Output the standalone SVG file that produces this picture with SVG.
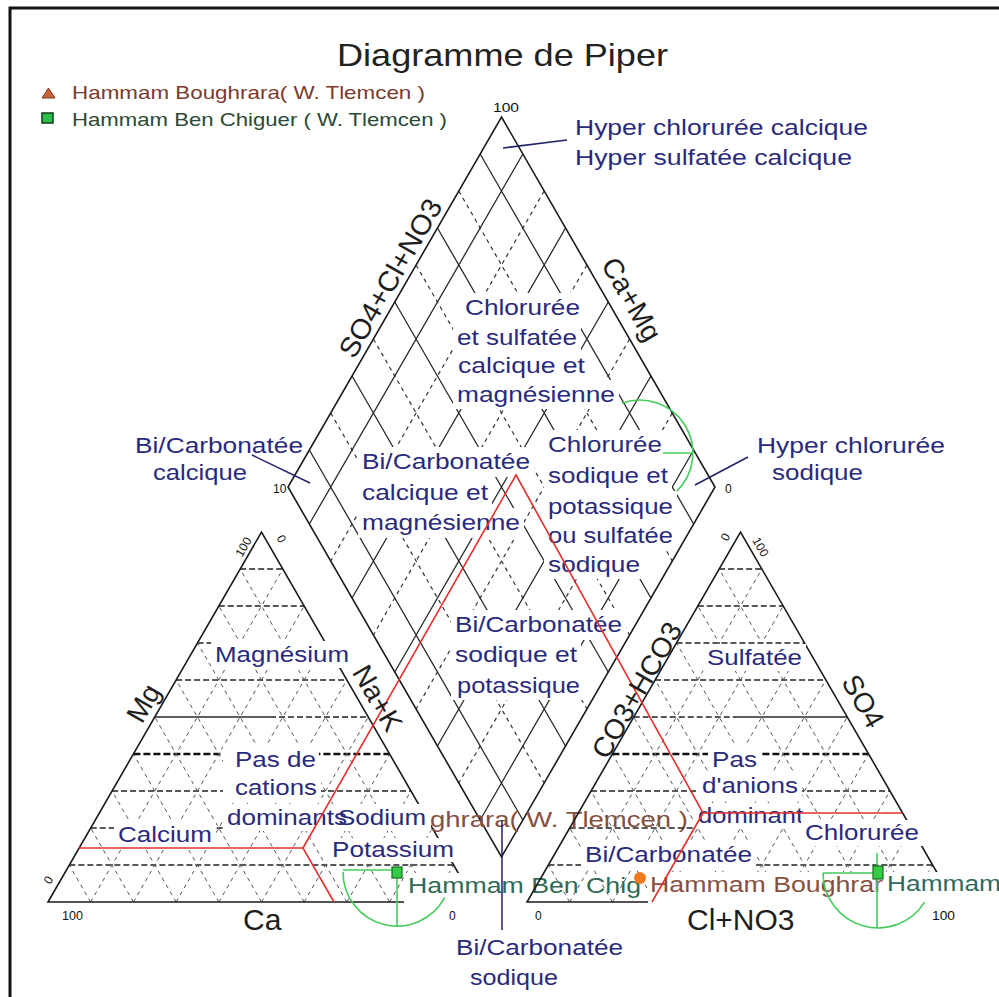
<svg xmlns="http://www.w3.org/2000/svg" width="999" height="997" viewBox="0 0 999 997">
<defs>
<style>
text{font-family:"Liberation Sans",Arial,sans-serif}
.lbl{font-size:22px;fill:#2a2a7c}
.ax{font-size:28px;fill:#1e1e1e}
.num{font-size:12px;fill:#111}
.edge{fill:none;stroke:#1a1a1a;stroke-width:1.6}
.sol{fill:none;stroke:#2a2a2a;stroke-width:1.3}
.dsh{fill:none;stroke:#333;stroke-width:1.2;stroke-dasharray:4 4}
.th{fill:none;stroke:#222;stroke-width:1.3;stroke-dasharray:6 3}
.thk{fill:none;stroke:#111;stroke-width:2.6;stroke-dasharray:7 3}
.td{fill:none;stroke:#555;stroke-width:1;stroke-dasharray:4 4}
.box{fill:#fff}
.red{fill:none;stroke:#e2312b;stroke-width:1.6}
.grn{fill:none;stroke:#45cc5c;stroke-width:1.6}
.lead{stroke:#22226a;stroke-width:1.5;fill:none}
</style>
<g id="triGrid">
<path class="th" d="M69.35,865H453.65M90.7,828H432.3M112.05,791H410.95M176.1,680H346.9M197.45,643H325.55M218.8,606H304.2M240.15,569H282.85"/>
<path class="thk" d="M133.4,754H389.6"/>
<path class="td" d="M90.7,902L282.85,569M133.4,902L304.2,606M176.1,902L325.55,643M218.8,902L346.9,680M261.5,902L368.25,717M304.2,902L389.6,754M346.9,902L410.95,791M389.6,902L432.3,828M432.3,902L453.65,865M90.7,902L69.35,865M133.4,902L90.7,828M176.1,902L112.05,791M218.8,902L133.4,754M261.5,902L154.75,717M304.2,902L176.1,680M346.9,902L197.45,643M389.6,902L218.8,606M432.3,902L240.15,569"/>
</g>
</defs>
<rect width="999" height="997" fill="#fff"/>
<path d="M10,997V8H999" fill="none" stroke="#111" stroke-width="3"/>

<g id="diamond">
<path class="dsh" d="M458.8,191L672.3,561M416.1,265L629.6,635M373.4,339L586.9,709M330.7,413L544.2,783M544.2,191L330.7,561M586.9,265L373.4,635M629.6,339L416.1,709M672.3,413L458.8,783"/>
<path class="sol" d="M480.15,154L693.65,524M437.45,228L650.95,598M394.75,302L608.25,672M352.05,376L565.55,746M309.35,450L522.85,820M522.85,154L309.35,524M565.55,228L352.05,598M608.25,302L394.75,672M650.95,376L437.45,746M693.65,450L480.15,820"/>
<polygon class="edge" points="501.5,117 715,487 501.5,857 288,487"/>
</g>

<g id="diamond-labels">
<rect class="box" x="461" y="293" width="123" height="30"/>
<rect class="box" x="453" y="323" width="128" height="29"/>
<rect class="box" x="454" y="351" width="135" height="29"/>
<rect class="box" x="453" y="380" width="166" height="29"/>
<text class="lbl" x="465" y="315" textLength="115" lengthAdjust="spacingAndGlyphs">Chlorurée</text>
<text class="lbl" x="457" y="345" textLength="120" lengthAdjust="spacingAndGlyphs">et sulfatée</text>
<text class="lbl" x="458" y="373" textLength="127" lengthAdjust="spacingAndGlyphs">calcique et</text>
<text class="lbl" x="457" y="402" textLength="158" lengthAdjust="spacingAndGlyphs">magnésienne</text>

<rect class="box" x="358" y="447" width="176" height="30"/>
<rect class="box" x="358" y="477" width="134" height="31"/>
<rect class="box" x="358" y="508" width="166" height="30"/>
<text class="lbl" x="362" y="469" textLength="168" lengthAdjust="spacingAndGlyphs">Bi/Carbonatée</text>
<text class="lbl" x="362" y="500" textLength="126" lengthAdjust="spacingAndGlyphs">calcique et</text>
<text class="lbl" x="362" y="530" textLength="158" lengthAdjust="spacingAndGlyphs">magnésienne</text>

<rect class="box" x="544" y="430" width="122" height="30"/>
<rect class="box" x="544" y="460" width="128" height="31"/>
<rect class="box" x="544" y="491" width="133" height="30"/>
<rect class="box" x="544" y="521" width="133" height="29"/>
<rect class="box" x="544" y="550" width="98" height="29"/>
<text class="lbl" x="548" y="452" textLength="114" lengthAdjust="spacingAndGlyphs">Chlorurée</text>
<text class="lbl" x="548" y="483" textLength="120" lengthAdjust="spacingAndGlyphs">sodique et</text>
<text class="lbl" x="548" y="514" textLength="125" lengthAdjust="spacingAndGlyphs">potassique</text>
<text class="lbl" x="548" y="543" textLength="125" lengthAdjust="spacingAndGlyphs">ou sulfatée</text>
<text class="lbl" x="548" y="572" textLength="92" lengthAdjust="spacingAndGlyphs">sodique</text>

<rect class="box" x="451" y="610" width="175" height="30"/>
<rect class="box" x="451" y="640" width="130" height="30"/>
<rect class="box" x="451" y="670" width="133" height="30"/>
<text class="lbl" x="455" y="632" textLength="167" lengthAdjust="spacingAndGlyphs">Bi/Carbonatée</text>
<text class="lbl" x="455" y="662" textLength="122" lengthAdjust="spacingAndGlyphs">sodique et</text>
<text class="lbl" x="457" y="693" textLength="123" lengthAdjust="spacingAndGlyphs">potassique</text>
</g>

<g id="cation-triangle">
<use href="#triGrid"/>
<path class="sol" d="M154.75,717H270"/>
<path class="th" d="M270,717H368.25"/>
<polygon class="edge" points="48,902 475,902 261.5,532"/>
<rect class="box" x="211" y="641" width="145" height="27"/>
<text class="lbl" x="215" y="662" textLength="134" lengthAdjust="spacingAndGlyphs">Magnésium</text>
<rect class="box" x="223" y="746" width="96" height="28"/>
<text class="lbl" x="235" y="767" textLength="81" lengthAdjust="spacingAndGlyphs">Pas de</text>
<rect class="box" x="223" y="774" width="98" height="29"/>
<text class="lbl" x="235" y="795" textLength="82" lengthAdjust="spacingAndGlyphs">cations</text>
<rect class="box" x="114" y="821" width="102" height="26"/>
<text class="lbl" x="118" y="842" textLength="94" lengthAdjust="spacingAndGlyphs">Calcium</text>
<rect class="box" x="223" y="804" width="208" height="27"/>
<text class="lbl" x="227" y="825" textLength="120" lengthAdjust="spacingAndGlyphs">dominants</text>
<text class="lbl" x="338" y="825" textLength="88" lengthAdjust="spacingAndGlyphs">Sodium</text>
<text x="430" y="827" font-size="22" fill="#875040" textLength="258" lengthAdjust="spacingAndGlyphs">ghrara( W. Tlemcen )</text>
<rect class="box" x="328" y="838" width="131" height="24"/>
<text class="lbl" x="332" y="857" textLength="122" lengthAdjust="spacingAndGlyphs">Potassium</text>
<rect class="box" x="404" y="873" width="244" height="32"/>
<text x="408" y="893" font-size="22" fill="#2f6a52" textLength="233" lengthAdjust="spacingAndGlyphs">Hammam Ben Chig</text>
</g>

<g id="anion-triangle">
<use href="#triGrid" transform="translate(479,0)"/>
<path class="th" d="M633.75,717H738"/>
<path class="sol" d="M738,717H847.25"/>
<polygon class="edge" points="527,902 954,902 740.5,532"/>
<rect class="box" x="703" y="644" width="103" height="27"/>
<text class="lbl" x="707" y="665" textLength="95" lengthAdjust="spacingAndGlyphs">Sulfatée</text>
<rect class="box" x="708" y="746" width="53" height="27"/>
<text class="lbl" x="712" y="767" textLength="45" lengthAdjust="spacingAndGlyphs">Pas</text>
<rect class="box" x="698" y="773" width="104" height="27"/>
<text class="lbl" x="702" y="793" textLength="96" lengthAdjust="spacingAndGlyphs">d'anions</text>
<rect class="box" x="694" y="803" width="112" height="26"/>
<text class="lbl" x="698" y="823" textLength="105" lengthAdjust="spacingAndGlyphs">dominant</text>
<rect class="box" x="801" y="820" width="122" height="26"/>
<text class="lbl" x="805" y="840" textLength="114" lengthAdjust="spacingAndGlyphs">Chlorurée</text>
<rect class="box" x="581" y="842" width="175" height="26"/>
<text class="lbl" x="585" y="862" textLength="167" lengthAdjust="spacingAndGlyphs">Bi/Carbonatée</text>
<rect class="box" x="648" y="872" width="238" height="34"/>
<text x="650" y="892" font-size="22" fill="#875040" textLength="233" lengthAdjust="spacingAndGlyphs">Hammam Boughrar</text>
<rect class="box" x="886" y="872" width="113" height="34"/>
<text x="887" y="891" font-size="22" fill="#2f6a60" textLength="114" lengthAdjust="spacingAndGlyphs">Hammam</text>
</g>

<g id="projections">
<path class="red" d="M79,848H303L334,902M303,848L516,475L703,813H902.6M703,813L652,902"/>
<path class="grn" d="M621.9,403.2A53,53 0 0 1 676.8,491.1M663,453H693"/>
<path class="grn" d="M343,872A54,54 0 0 0 444.7,897.4M343,870H397M397,872V926"/>
<path class="grn" d="M823,873A55,55 0 0 0 924.6,902.1M823,873H878M877,853V928"/>
<rect x="392" y="867" width="10" height="11" fill="#33cc44" stroke="#1a6a22" stroke-width="1.2"/>
<rect x="873" y="866" width="10" height="13" fill="#33cc44" stroke="#1a6a22" stroke-width="1.2"/>
<circle cx="640" cy="878" r="6" fill="#f07a1e"/>
</g>

<g id="leaders">
<path class="lead" d="M503,148L567,140M252,455L310,483M748,457L695,485M502,820V930"/>
<text class="lbl" x="575" y="135" textLength="293" lengthAdjust="spacingAndGlyphs">Hyper chlorurée calcique</text>
<text class="lbl" x="575" y="165" textLength="277" lengthAdjust="spacingAndGlyphs">Hyper sulfatée calcique</text>
<text class="lbl" x="135" y="453" textLength="168" lengthAdjust="spacingAndGlyphs">Bi/Carbonatée</text>
<text class="lbl" x="153" y="480" textLength="94" lengthAdjust="spacingAndGlyphs">calcique</text>
<text class="lbl" x="757" y="453" textLength="188" lengthAdjust="spacingAndGlyphs">Hyper chlorurée</text>
<text class="lbl" x="772" y="480" textLength="91" lengthAdjust="spacingAndGlyphs">sodique</text>
<text class="lbl" x="456" y="955" textLength="167" lengthAdjust="spacingAndGlyphs">Bi/Carbonatée</text>
<text class="lbl" x="470" y="985" textLength="88" lengthAdjust="spacingAndGlyphs">sodique</text>
</g>

<g id="axes">
<text class="ax" text-anchor="middle" transform="translate(398.7,283) rotate(-60)" textLength="178" lengthAdjust="spacingAndGlyphs">SO4+Cl+NO3</text>
<text class="ax" text-anchor="middle" transform="translate(623.3,304) rotate(60)">Ca+Mg</text>
<text class="ax" text-anchor="middle" transform="translate(151.7,708) rotate(-60)">Mg</text>
<text class="ax" text-anchor="middle" transform="translate(369.3,703) rotate(60)">Na+K</text>
<text class="ax" text-anchor="middle" transform="translate(645.2,695) rotate(-60)">CO3+HCO3</text>
<text class="ax" text-anchor="middle" transform="translate(854.8,706) rotate(60)">SO4</text>
<text x="243" y="930" font-size="30" fill="#1e1e1e">Ca</text>
<text x="687" y="930" font-size="30" fill="#1e1e1e">Cl+NO3</text>
<text class="num" x="493" y="112" textLength="26" lengthAdjust="spacingAndGlyphs">100</text>
<text class="num" x="273" y="493" font-size="11">10</text>
<text class="num" x="725" y="493" font-size="11">0</text>
<text class="num" x="62" y="920" textLength="21" lengthAdjust="spacingAndGlyphs">100</text>
<text class="num" x="449" y="920">0</text>
<text class="num" x="535" y="920">0</text>
<text class="num" x="932" y="920" textLength="23" lengthAdjust="spacingAndGlyphs">100</text>
<text class="num" text-anchor="middle" transform="translate(247,549) rotate(-60)">100</text>
<text class="num" text-anchor="middle" transform="translate(278,541) rotate(60)">0</text>
<text class="num" text-anchor="middle" transform="translate(729,539) rotate(-60)">0</text>
<text class="num" text-anchor="middle" transform="translate(757,549) rotate(60)">100</text>
<text class="num" text-anchor="middle" transform="translate(52,882) rotate(-60)">0</text>
</g>

<g id="title-legend">
<text x="337" y="66" font-size="32" fill="#222" textLength="331" lengthAdjust="spacingAndGlyphs">Diagramme de Piper</text>
<polygon points="42,98 48.5,88 55,98" fill="#c8643c" stroke="#7a3a20" stroke-width="1"/>
<text x="72" y="99" font-size="19" fill="#7a3b2e" textLength="353" lengthAdjust="spacingAndGlyphs">Hammam Boughrara( W. Tlemcen )</text>
<rect x="42" y="113" width="11" height="10" fill="#2fbf4f" stroke="#0d3d14" stroke-width="1.5"/>
<text x="72" y="126" font-size="19" fill="#2a4a35" textLength="375" lengthAdjust="spacingAndGlyphs">Hammam Ben Chiguer ( W. Tlemcen )</text>
</g>
</svg>
